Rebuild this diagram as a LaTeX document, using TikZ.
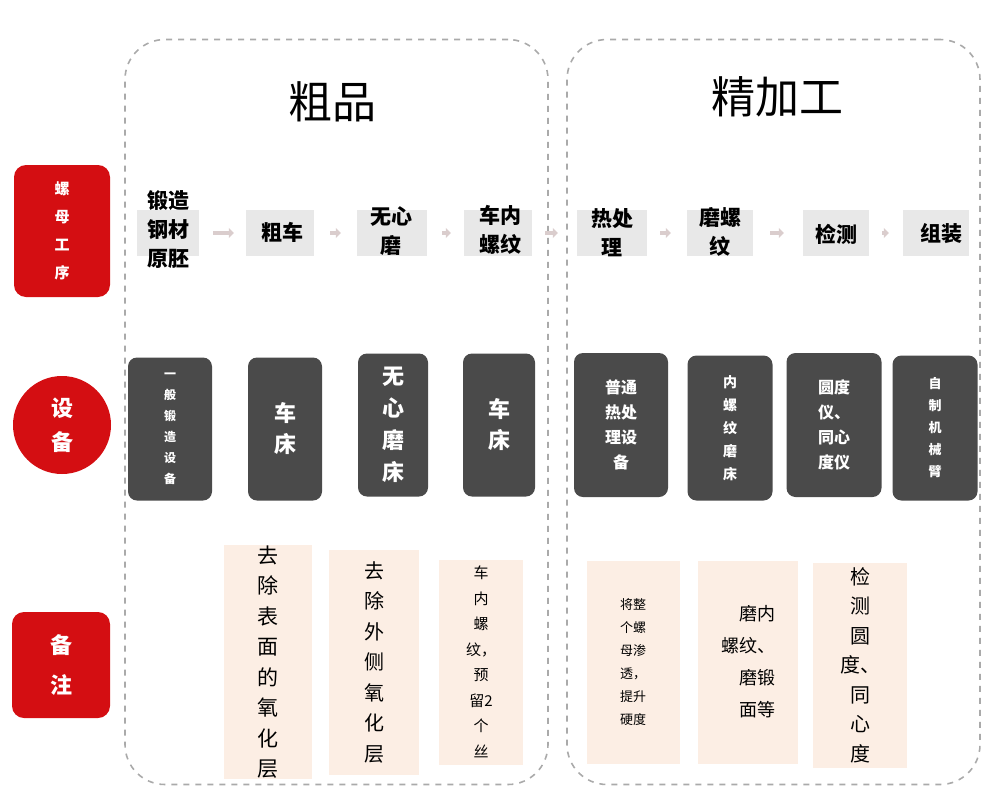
\documentclass[tikz,border=0pt]{standalone}
\usepackage{fontspec}
\newfontfamily\cjk{Noto Sans CJK SC}
\usetikzlibrary{arrows.meta}
\definecolor{redc}{RGB}{212,14,18}
\definecolor{darkc}{RGB}{74,74,74}
\definecolor{peach}{RGB}{252,238,228}
\definecolor{procg}{RGB}{232,232,232}
\definecolor{arrc}{RGB}{218,205,205}
\definecolor{framec}{RGB}{170,170,170}
\newcommand\myfs[2]{\fontsize{#1}{#2}\selectfont}
\begin{document}
\begin{tikzpicture}[x=1pt,y=-1pt,
  frame/.style={draw=framec, dash pattern=on 6pt off 6pt, line width=1.6pt, rounded corners=40pt, inner sep=0pt},
  redbox/.style={fill=redc, rounded corners=12pt, text=white, align=center, inner sep=0pt},
  redcirc/.style={fill=redc, circle, text=white, align=center, inner sep=0pt},
  procbox/.style={fill=procg, minimum height=46pt, inner sep=0pt},
  proctext/.style={align=center, font=\cjk\bfseries\myfs{21}{29}, inner sep=0pt},
  eqbox/.style={fill=darkc, rounded corners=9pt, text=white, align=center, inner sep=0pt},
  notebox/.style={fill=peach, inner sep=0pt, align=center},
  arr/.style={draw=arrc, line width=4pt, -{Triangle[length=5pt,width=10pt]}},
  title/.style={font=\cjk\myfs{44}{50}, inner sep=0pt}
]
\useasboundingbox (0,0) rectangle (983,798);

% frames
\node[frame, minimum width=423pt, minimum height=745pt] (f1) at (336.5,412) {};
\node[frame, minimum width=413pt, minimum height=745pt] (f2) at (773.5,412) {};
\node[title] (t1) at (332,102) {粗品};
\node[title] (t2) at (777,97) {精加工};

% left labels
\node[redbox, minimum width=96pt, minimum height=132pt, font=\cjk\bfseries\myfs{15}{28}] (L1) at (62,231) {螺\\母\\工\\序};
\node[redcirc, minimum size=98pt, font=\cjk\bfseries\myfs{22}{34}] (L2) at (62,425) {设\\备};
\node[redbox, minimum width=98pt, minimum height=106pt, font=\cjk\bfseries\myfs{22}{40}] (L3) at (61,665) {备\\注};

% process boxes
\node[procbox, minimum width=62pt] (b1) at (168,233) {};
\node[procbox, minimum width=68pt] (b2) at (280,233) {};
\node[procbox, minimum width=70pt] (b3) at (392,233) {};
\node[procbox, minimum width=68pt] (b4) at (498,233) {};
\node[procbox, minimum width=70pt] (b5) at (612,233) {};
\node[procbox, minimum width=66pt] (b6) at (720,233) {};
\node[procbox, minimum width=66pt] (b7) at (836,233) {};
\node[procbox, minimum width=66pt] (b8) at (936,233) {};

\node[proctext] (p1) at (168,229) {锻造\\钢材\\原胚};
\node[proctext] (p2) at (282,232) {粗车};
\node[proctext] (p3) at (391,231) {无心\\磨};
\node[proctext] (p4) at (500,230) {车内\\螺纹};
\node[proctext] (p5) at (612,233) {热处\\理};
\node[proctext] (p6) at (720,232) {磨螺\\纹};
\node[proctext] (p7) at (836,234) {检测};
\node[proctext] (p8) at (941,234) {组装};

\draw[arr, shorten <=14pt, shorten >=12pt] (b1) -- (b2);
\draw[arr, shorten <=16pt, shorten >=16pt] (b2) -- (b3);
\draw[arr, shorten <=15pt, shorten >=13pt] (b3) -- (b4);
\draw[arr, shorten <=13pt, shorten >=19pt] (b4) -- (b5);
\draw[arr, shorten <=13pt, shorten >=16pt] (b5) -- (b6);
\draw[arr, shorten <=17pt, shorten >=19pt] (b6) -- (b7);
\draw[arr, shorten <=13pt, shorten >=14pt] (b7) -- (b8);

% equipment
\node[eqbox, minimum width=84pt, minimum height=143pt, font=\cjk\bfseries\myfs{12}{21}] (e1) at (170,429) {一\\般\\锻\\造\\设\\备};
\node[eqbox, minimum width=74pt, minimum height=143pt, font=\cjk\bfseries\myfs{22}{31}] (e2) at (285,429) {车\\床};
\node[eqbox, minimum width=70pt, minimum height=143pt, font=\cjk\bfseries\myfs{22}{32}] (e3) at (393,425) {无\\心\\磨\\床};
\node[eqbox, minimum width=72pt, minimum height=143pt, font=\cjk\bfseries\myfs{22}{31}] (e4) at (499,425) {车\\床};
\node[eqbox, minimum width=94pt, minimum height=144pt, font=\cjk\bfseries\myfs{16}{25}] (e5) at (621,425) {普通\\热处\\理设\\备};
\node[eqbox, minimum width=85pt, minimum height=145pt, font=\cjk\bfseries\myfs{14}{23}] (e6) at (730,428) {内\\螺\\纹\\磨\\床};
\node[eqbox, minimum width=95pt, minimum height=144pt, font=\cjk\bfseries\myfs{16}{25}] (e7) at (834,425) {圆度\\仪、\\同心\\度仪};
\node[eqbox, minimum width=85pt, minimum height=145pt, font=\cjk\bfseries\myfs{13}{22}] (e8) at (935,428) {自\\制\\机\\械\\臂};

% notes
\node[notebox, minimum width=88pt, minimum height=230pt, font=\cjk\myfs{21}{30.5}] (n2) at (268,662) {去\\除\\表\\面\\的\\氧\\化\\层};
\node[notebox, minimum width=90pt, minimum height=225pt, font=\cjk\myfs{20}{30.5}] (n3) at (374,662) {去\\除\\外\\侧\\氧\\化\\层};
\node[notebox, minimum width=84pt, minimum height=205pt, font=\cjk\myfs{15}{25.5}] (n4) at (481,662) {车\\内\\螺\\纹，\\预\\留2\\个\\丝};
\node[notebox, minimum width=93pt, minimum height=203pt, font=\cjk\myfs{13}{23}] (n5) at (633,662) {将整\\个螺\\母渗\\透，\\提升\\硬度};
\node[notebox, minimum width=100pt, minimum height=203pt, font=\cjk\myfs{18}{32}, align=right] (n6) at (748,662) {磨内\\螺纹、\\磨锻\\面等};
\node[notebox, minimum width=94pt, minimum height=205pt, font=\cjk\myfs{20}{29.5}] (n7) at (860,665) {检\\测\\圆\\度、\\同\\心\\度};
\end{tikzpicture}
\end{document}
